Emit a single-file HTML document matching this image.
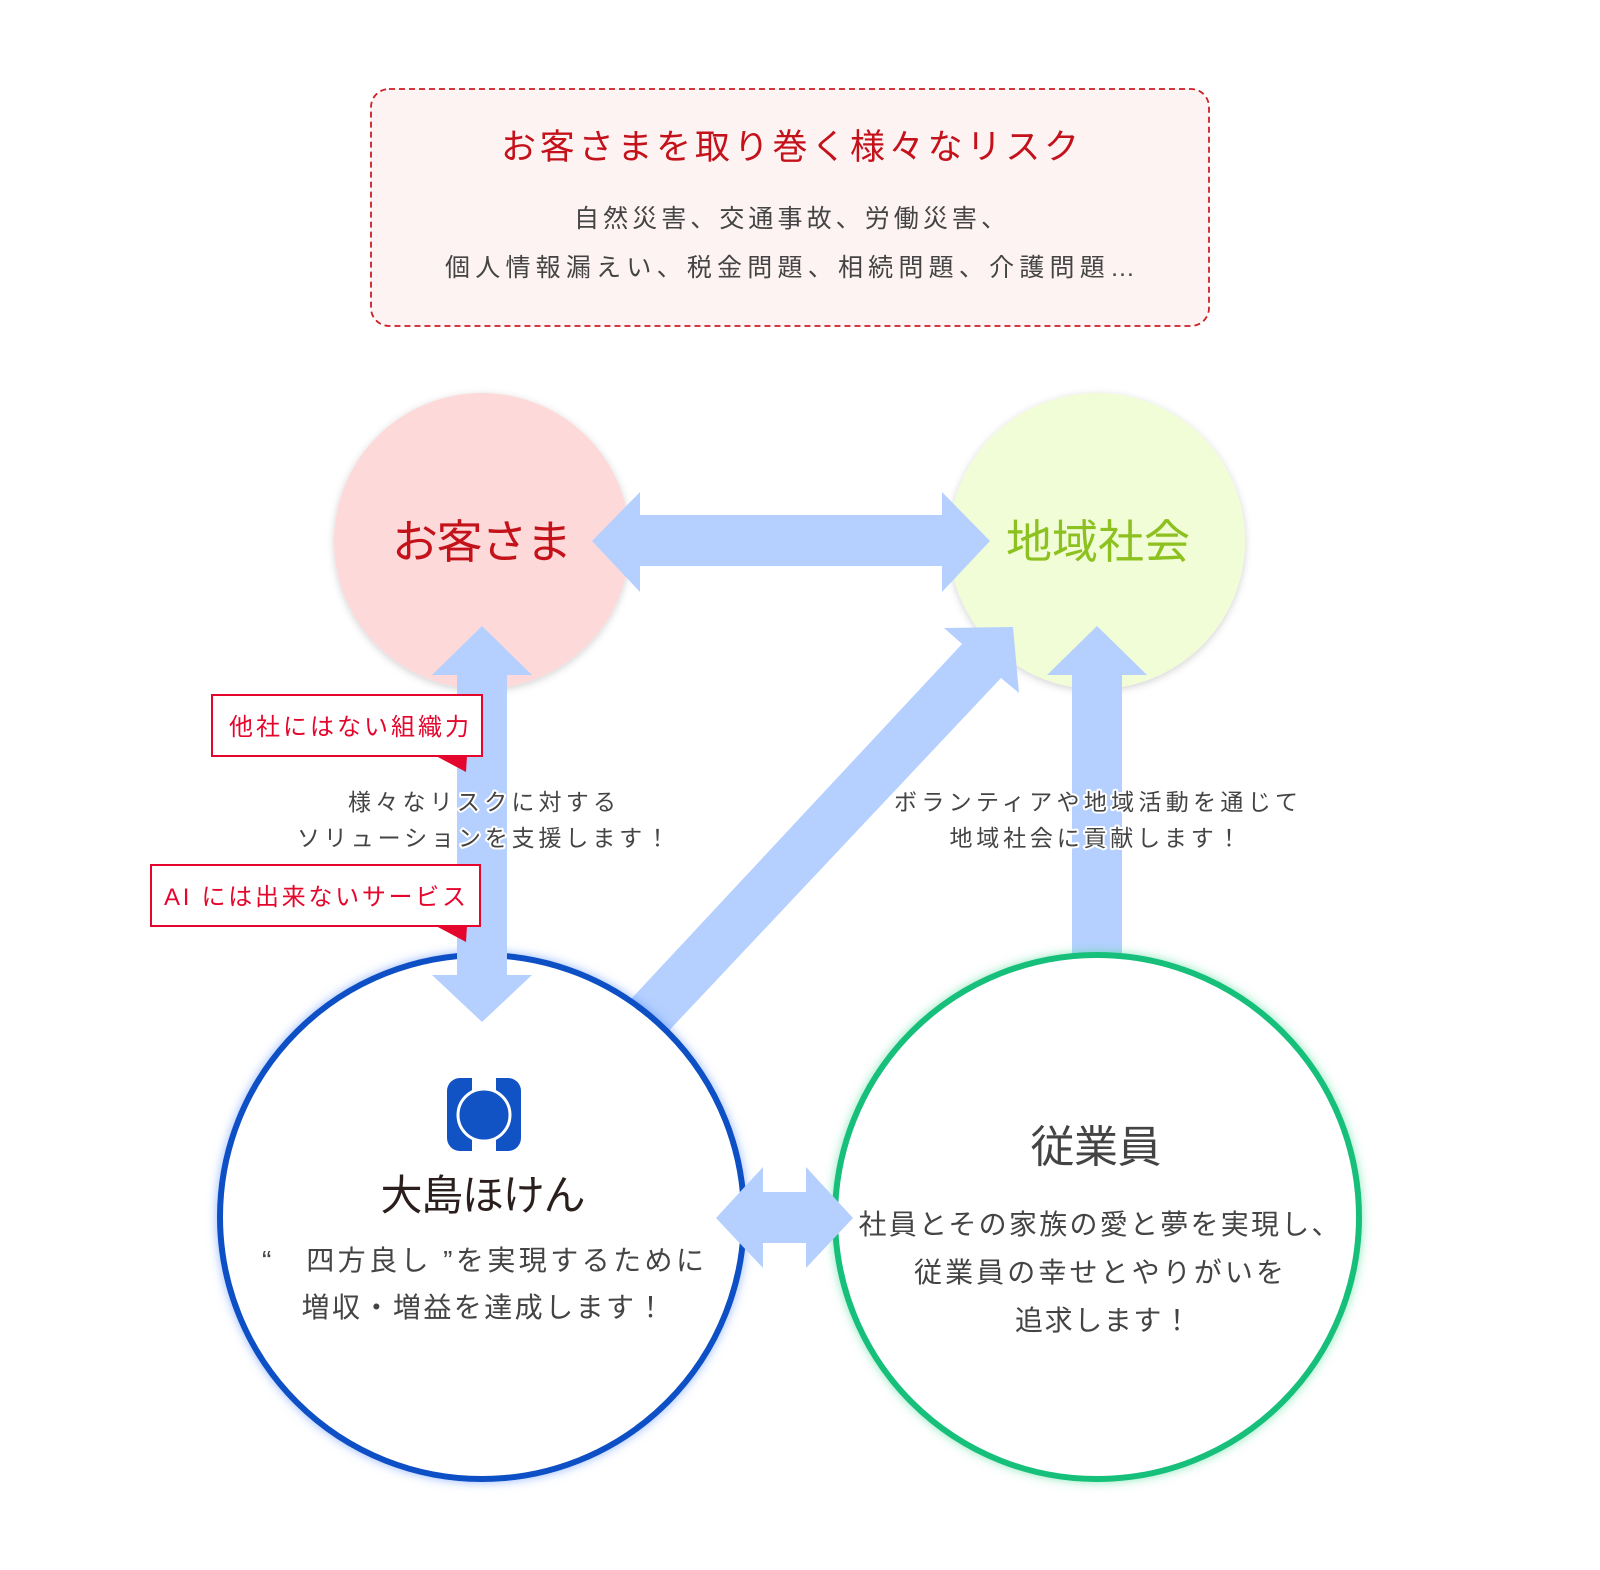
<!DOCTYPE html>
<html><head><meta charset="utf-8"><style>
html,body{margin:0;padding:0;background:#fff;}
svg{display:block;}
text{font-family:"Liberation Sans","Noto Sans CJK JP",sans-serif;}
.g{fill:#444;}
.halo{paint-order:stroke;stroke:#fff;stroke-width:4px;stroke-linejoin:round;}
</style></head><body>
<svg width="1600" height="1570" viewBox="0 0 1600 1570" xmlns="http://www.w3.org/2000/svg">
<defs>
<filter id="sh" x="-20%" y="-20%" width="140%" height="140%"><feDropShadow dx="0" dy="2" stdDeviation="4" flood-color="#000" flood-opacity="0.18"/></filter>
<filter id="glowB" x="-20%" y="-20%" width="140%" height="140%"><feDropShadow dx="0" dy="0" stdDeviation="5" flood-color="#4d86ff" flood-opacity="0.6"/></filter>
<filter id="glowG" x="-20%" y="-20%" width="140%" height="140%"><feDropShadow dx="0" dy="0" stdDeviation="5" flood-color="#3fd592" flood-opacity="0.6"/></filter>
</defs>

<rect x="371" y="89" width="838" height="237" rx="18" fill="#fdf3f3" stroke="#cc1f24" stroke-width="1.8" stroke-dasharray="6,4"/>
<text x="790" y="159" text-anchor="middle" font-size="35" fill="#c4121b" textLength="578" lengthAdjust="spacing">お客さまを取り巻く様々なリスク</text>
<text x="790" y="227" text-anchor="middle" font-size="25" class="g" textLength="432" lengthAdjust="spacing">自然災害、交通事故、労働災害、</text>
<text x="790" y="276" text-anchor="middle" font-size="25" class="g" textLength="690" lengthAdjust="spacing">個人情報漏えい、税金問題、相続問題、介護問題…</text>

<circle cx="482" cy="541" r="148" fill="#fdd9d9" filter="url(#sh)"/>
<circle cx="1097" cy="541" r="148" fill="#f1fdd6" filter="url(#sh)"/>
<text x="482" y="558" text-anchor="middle" font-size="46" fill="#c4121b" textLength="180" lengthAdjust="spacing">お客さま</text>
<text x="1098" y="558" text-anchor="middle" font-size="46" fill="#8cc11f" textLength="184" lengthAdjust="spacing">地域社会</text>

<polygon fill="#b5d0ff" points="592,541 640,492 640,515 942,515 942,492 990,541 942,592 942,566 640,566 640,592"/>

<polygon fill="#b5d0ff" points="590,1043 962,644 944,628 1013,627 1019,693 1001,678 630,1072"/>

<polygon fill="#b5d0ff" points="1097,626 1147,675 1122,675 1122,960 1072,960 1072,675 1047,675"/>

<circle cx="482" cy="1217" r="262" fill="#fff" stroke="#1150c4" stroke-width="6" filter="url(#glowB)"/>
<circle cx="1097" cy="1217" r="262" fill="#fff" stroke="#14c07a" stroke-width="6" filter="url(#glowG)"/>

<polygon fill="#b5d0ff" points="482,626 532,675 507,675 507,975 532,975 482,1022 432,975 457,975 457,675 432,675"/>

<polygon fill="#b5d0ff" points="716,1218 763,1167 763,1192 806,1192 806,1167 853,1218 806,1268 806,1243 763,1243 763,1268"/>

<rect x="212" y="695" width="270" height="61" fill="#fff" stroke="#e5062d" stroke-width="2"/>
<polygon points="436,756 467,756 466,772" fill="#e5062d"/>
<text x="349" y="735" text-anchor="middle" font-size="24" fill="#e5062d" textLength="240" lengthAdjust="spacing">他社にはない組織力</text>
<rect x="151" y="865" width="329" height="61" fill="#fff" stroke="#e5062d" stroke-width="2"/>
<polygon points="436,926 467,926 466,942" fill="#e5062d"/>
<text x="315" y="905" text-anchor="middle" font-size="24" fill="#e5062d" textLength="302" lengthAdjust="spacing">AI には出来ないサービス</text>

<text x="482" y="810" text-anchor="middle" font-size="23" class="g halo" textLength="268" lengthAdjust="spacing">様々なリスクに対する</text>
<text x="483" y="846" text-anchor="middle" font-size="23" class="g halo" textLength="372" lengthAdjust="spacing">ソリューションを支援します！</text>
<text x="1096" y="810" text-anchor="middle" font-size="23" class="g halo" textLength="404" lengthAdjust="spacing">ボランティアや地域活動を通じて</text>
<text x="1095" y="846" text-anchor="middle" font-size="23" class="g halo" textLength="291" lengthAdjust="spacing">地域社会に貢献します！</text>

<rect x="447" y="1078" width="74" height="73" rx="13" fill="#1152c4"/>
<rect x="472" y="1078" width="24" height="73" fill="#fff"/>
<circle cx="484" cy="1115" r="26" fill="#1152c4" stroke="#fff" stroke-width="3"/>
<text x="483" y="1210" text-anchor="middle" font-size="42" fill="#2a1f1c" textLength="205" lengthAdjust="spacing">大島ほけん</text>
<text x="483" y="1270" text-anchor="middle" font-size="28" class="g" textLength="442" lengthAdjust="spacing">“　四方良し ”を実現するために</text>
<text x="483" y="1317" text-anchor="middle" font-size="28" class="g" textLength="363" lengthAdjust="spacing">増収・増益を達成します！</text>

<text x="1096" y="1162" text-anchor="middle" font-size="44" class="g" textLength="131" lengthAdjust="spacing">従業員</text>
<text x="1099" y="1234" text-anchor="middle" font-size="28" class="g" textLength="481" lengthAdjust="spacing">社員とその家族の愛と夢を実現し、</text>
<text x="1099" y="1282" text-anchor="middle" font-size="28" class="g" textLength="370" lengthAdjust="spacing">従業員の幸せとやりがいを</text>
<text x="1103" y="1330" text-anchor="middle" font-size="28" class="g" textLength="176" lengthAdjust="spacing">追求します！</text>
</svg>
</body></html>
